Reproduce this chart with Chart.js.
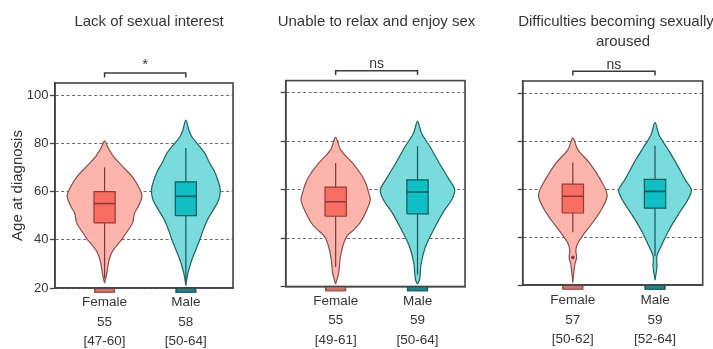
<!DOCTYPE html>
<html>
<head>
<meta charset="utf-8">
<script src="https://cdn.jsdelivr.net/npm/chart.js@4/dist/chart.umd.min.js"></script>
<style>
  html, body { margin: 0; padding: 0; background: #fff; }
  #wrap { position: relative; width: 713px; height: 349px; overflow: hidden; }
  #wrap canvas { position: absolute; top: 0; }
</style>
</head>
<body>
<div id="wrap">
  <canvas id="c1" width="240" height="349" style="left:0px"></canvas>
  <canvas id="c2" width="236" height="349" style="left:240px"></canvas>
  <canvas id="c3" width="237" height="349" style="left:476px"></canvas>
</div>
<script>
// ---- data ----
const panelTitles = [
  ['Lack of sexual interest'],
  ['Unable to relax and enjoy sex'],
  ['Difficulties becoming sexually', 'aroused']
];
const groups = ['Female', 'Male'];
const significance = ['*', 'ns', 'ns'];
const ageTicks = [20, 40, 60, 80, 100];

// per panel: [Female, Male]
const medians = [[55, 58], [55, 59], [57, 59]];
const q1 = [[47, 50], [49, 50], [50, 52]];
const q3 = [[60, 64], [61, 64], [62, 64]];
const whiskerLow = [[24, 23], [28, 25], [42, 32]];
const whiskerHigh = [[70, 78], [71, 78], [71, 78]];
const outliers = [[[], []], [[], []], [[31.5], []]];

// density outlines (age at diagnosis, relative density)
const p1FemaleAge = [22, 26, 31, 34.5, 37, 40, 43, 47, 51, 54, 58, 62, 66, 70, 74.5, 78.5, 81];
const p1FemaleDensity = [0, 2.2, 4.2, 7, 11, 17, 22, 28, 30, 34, 37.5, 34, 28, 19, 9, 3, 0];
const p1MaleAge = [21, 25, 27.6, 31.7, 35.9, 40, 44.2, 48.3, 52.4, 56.6, 60.7, 64.8, 68.9, 71.7, 75.9, 78.6, 82.7, 85.5, 89.6];
const p1MaleDensity = [0, 1.5, 3, 6, 10, 14, 17.5, 21.7, 27.5, 33, 34.5, 32, 28, 24, 19, 14, 6, 3, 0];
const p2FemaleAge = [21, 25.5, 31, 36.5, 40.6, 43.4, 46.1, 51.6, 55.8, 58.5, 62, 65.4, 71, 76.4, 81.6];
const p2FemaleDensity = [0, 3, 4.3, 7, 11, 18, 24, 31, 34.5, 33, 30.5, 26.7, 16.7, 5, 0];
const p2MaleAge = [21, 22.7, 29.6, 36.5, 43.4, 50.3, 55.8, 59.9, 64, 70.9, 77.7, 83.3, 88.2];
const p2MaleDensity = [0, 2, 3.7, 8, 16, 25, 34, 37, 31.7, 21.7, 12.5, 4, 0];
const p3FemaleAge = [21, 28.7, 31.3, 34.7, 37.5, 41.7, 47.2, 52.7, 57.6, 63.8, 70.8, 76.3, 81.2];
const p3FemaleDensity = [0, 2, 3.7, 3, 5, 11.7, 21.7, 30, 34, 27.5, 16.7, 5, 0];
const p3MaleAge = [22, 27.7, 31.9, 36.1, 43, 50, 55.5, 59.7, 63.8, 70.8, 77.7, 82.5, 87.7];
const p3MaleDensity = [0, 2, 1.8, 6, 14, 24, 32.5, 36, 30, 21, 11, 4, 0];

const violinAges = [[p1FemaleAge, p1MaleAge], [p2FemaleAge, p2MaleAge], [p3FemaleAge, p3MaleAge]];
const violinDensity = [[p1FemaleDensity, p1MaleDensity], [p2FemaleDensity, p2MaleDensity], [p3FemaleDensity, p3MaleDensity]];

// ---- styling ----
const FONT = "'Liberation Sans', Arial, sans-serif";
const TEXT = '#363636';
const FRAME = '#444444';
const DENSITY_TO_X = 1 / 81.5;   // x units per density unit
const BOX_HALF = 0.13;
const palette = [
  { violin: '#fdb4ac', violinLine: '#85504b', box: '#f96e63', boxLine: '#923a35', whisker: '#7d3b37', tickDark: '#97504c', tickFill: '#d07670' },
  { violin: '#79dbdc', violinLine: '#21625f', box: '#0fbfc3', boxLine: '#0d5a60', whisker: '#145a5e', tickDark: '#135a5c', tickFill: '#238486' }
];
const panelLayout = [
  { top: 83,   right: 7,    yWidth: 55,   xHeight: 61,   labelPad: 4.75, titleX: [149],      showY: true },
  { top: 80.6, right: 11,   yWidth: 45.7, xHeight: 62.5, labelPad: 4.75, titleX: [136.5],    showY: false },
  { top: 81,   right: 10.3, yWidth: 46.7, xHeight: 64,   labelPad: 6,    titleX: [140, 147], showY: false }
];

function violinOutline(center, ages, dens) {
  const right = ages.map((a, i) => ({ x: center + dens[i] * DENSITY_TO_X, y: a }));
  const left = ages.map((a, i) => ({ x: center - dens[i] * DENSITY_TO_X, y: a })).reverse();
  return right.concat(left.slice(1));
}

function boxOutline(center, lo, hi) {
  return [
    { x: center - BOX_HALF, y: lo }, { x: center + BOX_HALF, y: lo },
    { x: center + BOX_HALF, y: hi }, { x: center - BOX_HALF, y: hi },
    { x: center - BOX_HALF, y: lo }
  ];
}

function buildDatasets(p) {
  const sets = [];
  const line = (data, extra) => Object.assign({ data, showLine: true, pointRadius: 0, fill: false, tension: 0 }, extra);
  groups.forEach((g, gi) => {
    const c = gi + 1, col = palette[gi];
    sets.push(line(violinOutline(c, violinAges[p][gi], violinDensity[p][gi]), {
      fill: 'shape', backgroundColor: col.violin, borderColor: col.violinLine, borderWidth: 1.2, tension: 0.35
    }));
  });
  groups.forEach((g, gi) => {
    const c = gi + 1, col = palette[gi];
    sets.push(line([{ x: c, y: whiskerLow[p][gi] }, { x: c, y: whiskerHigh[p][gi] }], {
      borderColor: col.whisker, borderWidth: 1.2
    }));
    sets.push(line(boxOutline(c, q1[p][gi], q3[p][gi]), {
      fill: 'shape', backgroundColor: col.box, borderColor: col.boxLine, borderWidth: 1.2
    }));
    sets.push(line([{ x: c - BOX_HALF, y: medians[p][gi] }, { x: c + BOX_HALF, y: medians[p][gi] }], {
      borderColor: col.boxLine, borderWidth: 1.6
    }));
    if (outliers[p][gi].length) {
      sets.push({ data: outliers[p][gi].map(v => ({ x: c, y: v })), pointRadius: 1.8,
        pointBackgroundColor: col.whisker, pointBorderWidth: 0 });
    }
    // group colour key under the axis
    sets.push(line([{ x: c - BOX_HALF, y: 19.1 }, { x: c + BOX_HALF, y: 19.1 }], {
      borderColor: col.tickDark, borderWidth: 5.5, clip: false
    }));
    sets.push(line([{ x: c - BOX_HALF + 0.02, y: 19.1 }, { x: c + BOX_HALF - 0.02, y: 19.1 }], {
      borderColor: col.tickFill, borderWidth: 3.2, clip: false
    }));
  });
  // significance bracket
  sets.push(line([{ x: 1, y: 107.3 }, { x: 1, y: 109.1 }, { x: 2, y: 109.1 }, { x: 2, y: 107.3 }], {
    borderColor: '#3a3a3a', borderWidth: 1.5, clip: false
  }));
  sets.forEach((s, i) => { s.order = -i; });
  return sets;
}

function decorPlugin(p) {
  const L = panelLayout[p];
  return {
    id: 'panelDecor' + p,
    afterDraw(chart) {
      const { ctx, chartArea: a, scales } = chart;
      ctx.save();
      // frame
      ctx.strokeStyle = FRAME;
      ctx.lineWidth = 1.6;
      ctx.strokeRect(a.left, a.top, a.right - a.left, a.bottom - a.top);
      // panel title
      ctx.fillStyle = TEXT;
      ctx.font = '15px ' + FONT;
      ctx.textAlign = 'center';
      ctx.textBaseline = 'middle';
      panelTitles[p].forEach((t, i) => ctx.fillText(t, L.titleX[Math.min(i, L.titleX.length - 1)], 22 + i * 19.5));
      // significance label
      ctx.font = (significance[p] === '*' ? '15px ' : '14px ') + FONT;
      const sx = scales.x.getPixelForValue(1.5);
      const sy = scales.y.getPixelForValue(significance[p] === '*' ? 112.5 : 111.8);
      ctx.fillText(significance[p], sx, sy);
      ctx.restore();
    }
  };
}

function makeChart(id, p) {
  const L = panelLayout[p];
  return new Chart(document.getElementById(id), {
    type: 'scatter',
    data: { datasets: buildDatasets(p) },
    plugins: [decorPlugin(p)],
    options: {
      responsive: false,
      animation: false,
      events: [],
      devicePixelRatio: 1,
      layout: { padding: { top: L.top, right: L.right, bottom: 0, left: 0 } },
      plugins: { legend: { display: false }, tooltip: { enabled: false }, title: { display: false } },
      scales: {
        x: {
          type: 'linear', min: 0.39, max: 2.58,
          afterBuildTicks: s => { s.ticks = [{ value: 1 }, { value: 2 }]; },
          afterFit: s => { s.height = L.xHeight; },
          grid: { display: false, drawTicks: false },
          border: { display: true, color: FRAME, width: 1.6 },
          ticks: {
            autoSkip: false, maxRotation: 0, padding: L.labelPad, color: TEXT,
            font: { family: FONT, size: 13.5, lineHeight: 1.444 },
            callback: v => {
              const gi = Math.round(v) - 1;
              return [groups[gi], String(medians[p][gi]), '[' + q1[p][gi] + '-' + q3[p][gi] + ']'];
            }
          }
        },
        y: {
          type: 'linear', min: 20, max: 105,
          afterBuildTicks: s => { s.ticks = ageTicks.map(v => ({ value: v })); },
          afterFit: s => { s.width = L.yWidth; },
          grid: { color: '#6a6a6a', lineWidth: 1, drawTicks: true, tickLength: 5, tickColor: FRAME, tickWidth: 1.3 },
          border: { display: true, color: FRAME, width: 1.6, dash: [3, 2.5] },
          ticks: { display: L.showY, padding: 1.5, color: TEXT, font: { family: FONT, size: 13 } },
          title: {
            display: L.showY, text: 'Age at diagnosis', color: TEXT,
            font: { family: FONT, size: 15 }, padding: { top: 9, bottom: 0 }
          }
        }
      }
    }
  });
}

makeChart('c1', 0);
makeChart('c2', 1);
makeChart('c3', 2);
</script>
</body>
</html>
